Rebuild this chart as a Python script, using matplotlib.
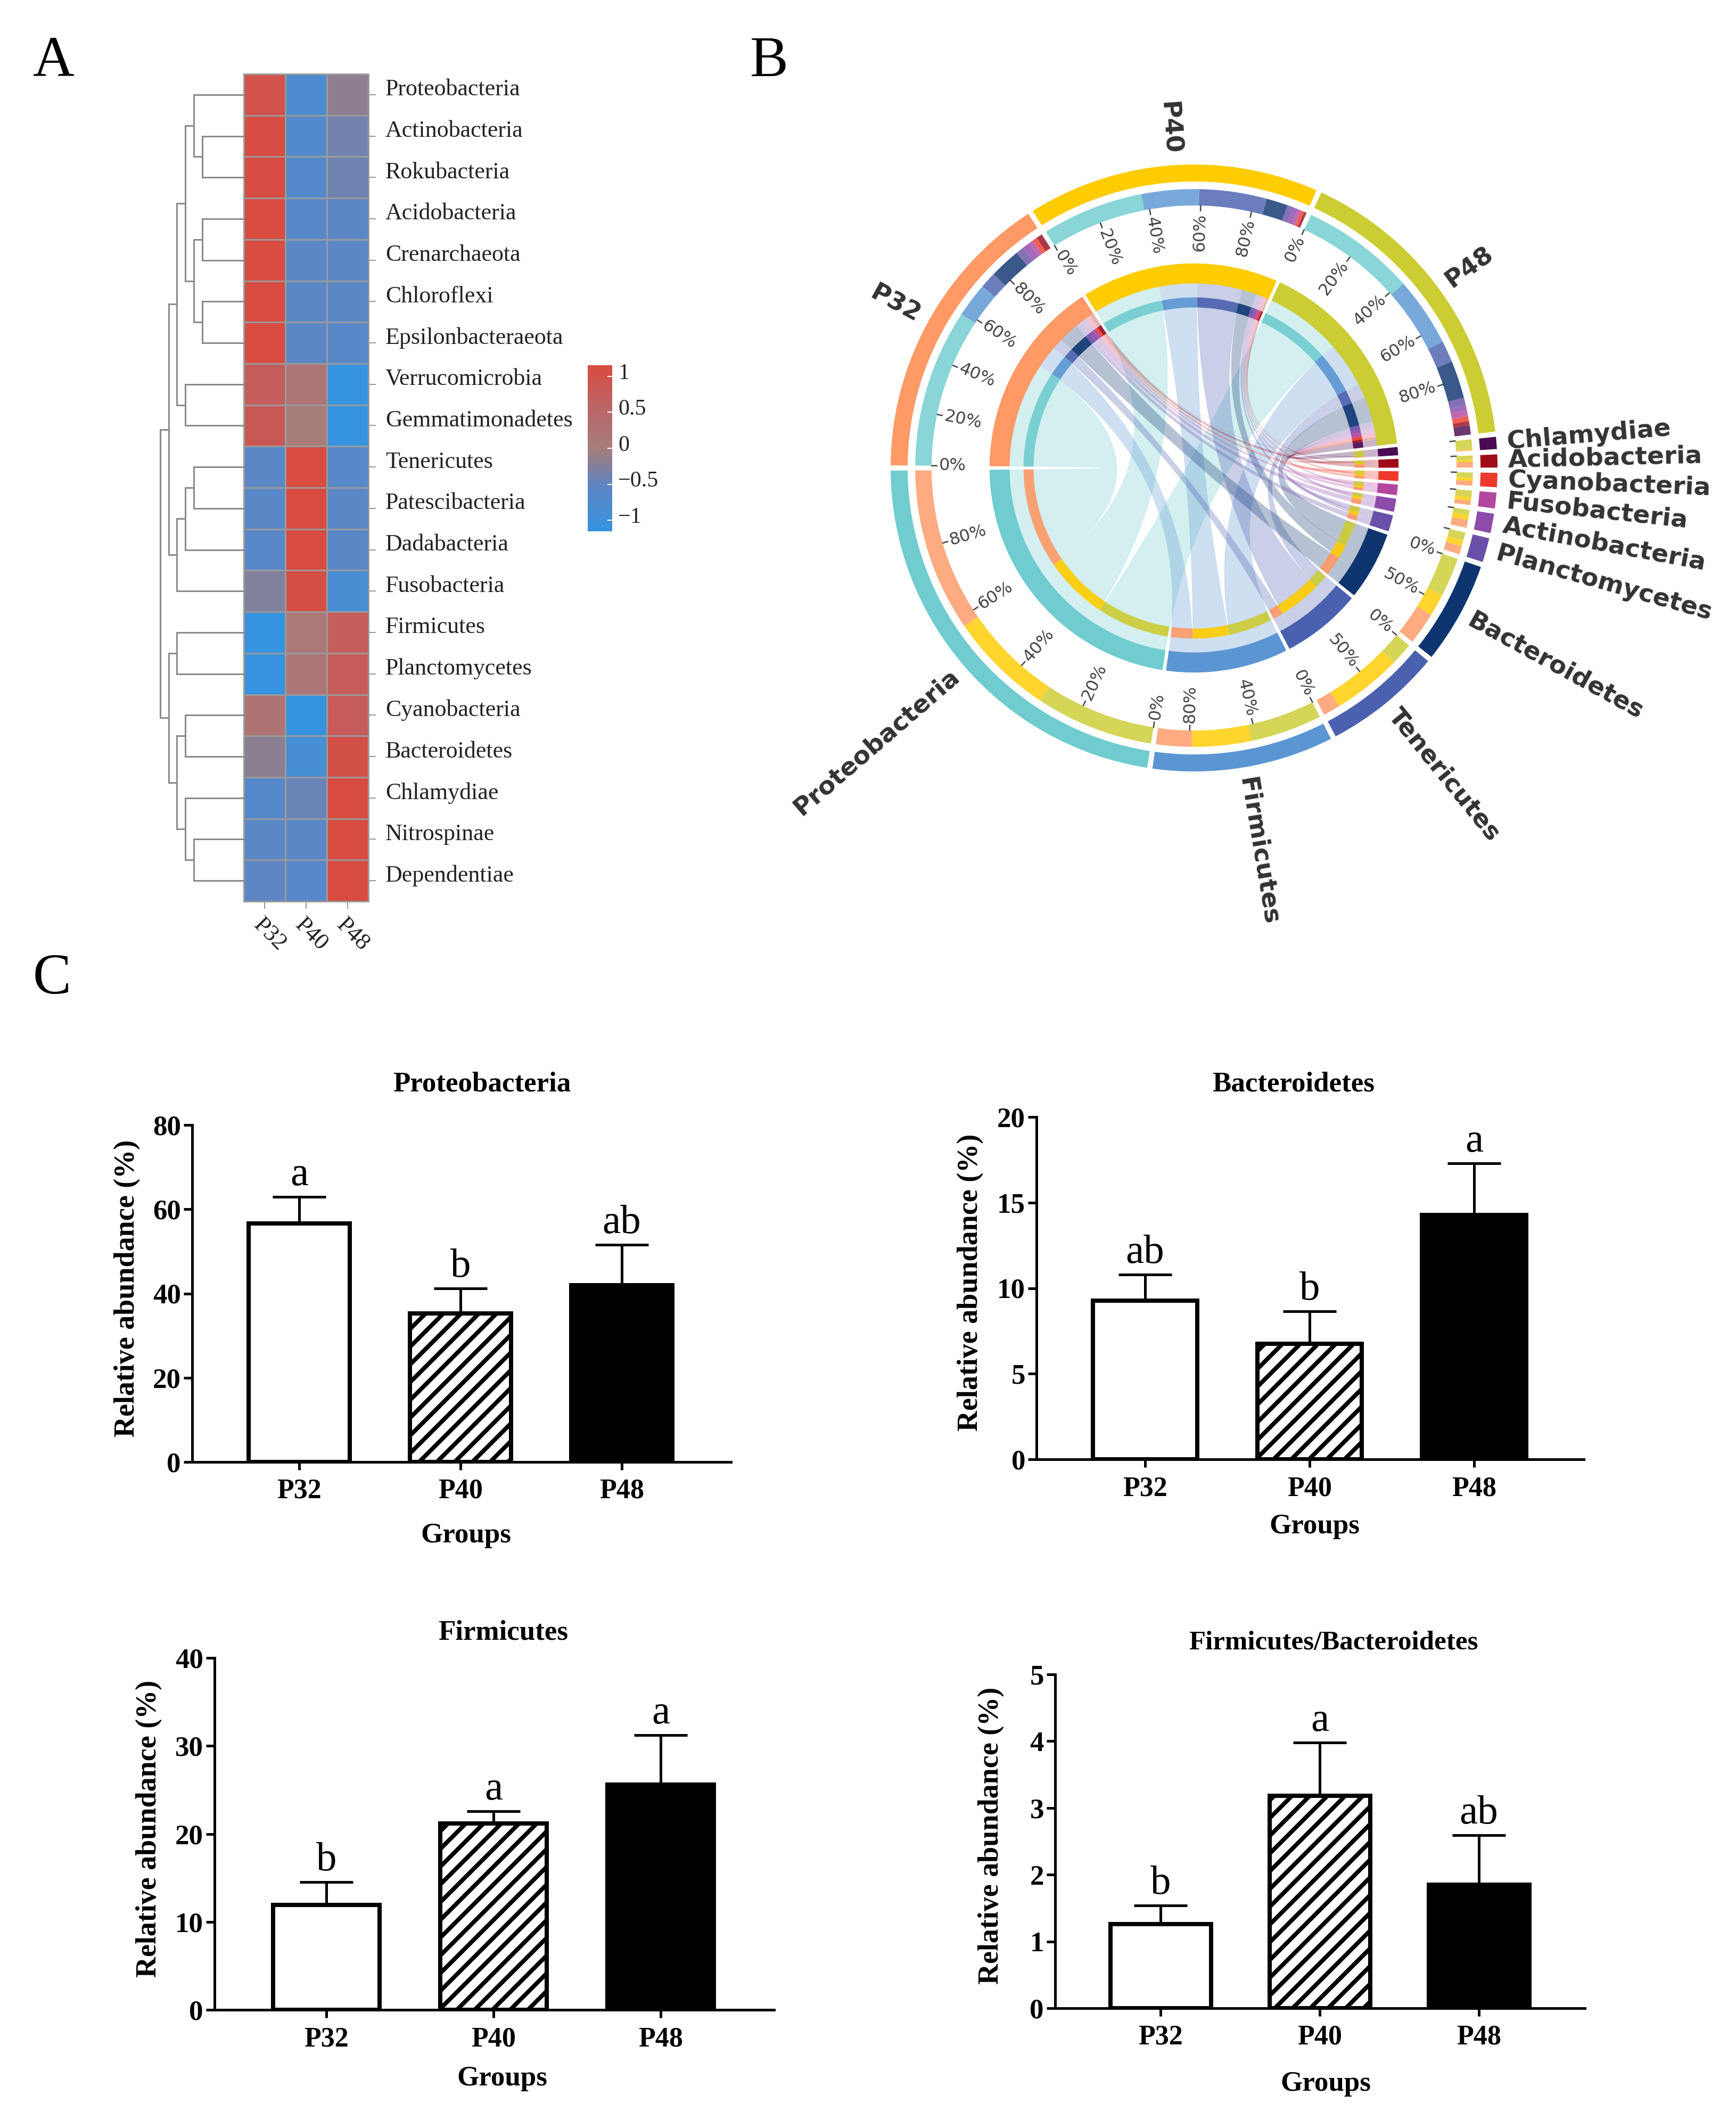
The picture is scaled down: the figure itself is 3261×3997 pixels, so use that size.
import numpy as np
import matplotlib
matplotlib.use('Agg')
import matplotlib.pyplot as plt
from matplotlib.colors import LinearSegmentedColormap
from matplotlib.patches import Wedge, PathPatch
from matplotlib.path import Path
from matplotlib.transforms import ScaledTranslation

W, H, DPI = 3262, 3997, 200
SERIF = 'Liberation Serif'

# heatmap data (row z-scores)
phyla_heat = ['Proteobacteria', 'Actinobacteria', 'Rokubacteria', 'Acidobacteria', 'Crenarchaeota',
              'Chloroflexi', 'Epsilonbacteraeota', 'Verrucomicrobia', 'Gemmatimonadetes', 'Tenericutes',
              'Patescibacteria', 'Dadabacteria', 'Fusobacteria', 'Firmicutes', 'Planctomycetes',
              'Cyanobacteria', 'Bacteroidetes', 'Chlamydiae', 'Nitrospinae', 'Dependentiae']
groups = ['P32', 'P40', 'P48']
z_p32 = [1.02, 1.13, 1.13, 1.15, 1.15, 1.15, 1.15, 0.75, 0.85, -0.55, -0.58, -0.60, -0.25, -1.13, -1.12, 0.25, -0.18, -0.65, -0.58, -0.52]
z_p40 = [-0.78, -0.70, -0.68, -0.60, -0.58, -0.57, -0.56, 0.22, 0.05, 1.15, 1.15, 1.15, 1.09, 0.12, 0.20, -1.13, -0.88, -0.42, -0.58, -0.63]
z_p48 = [-0.17, -0.36, -0.38, -0.55, -0.57, -0.58, -0.59, -1.13, -1.13, -0.60, -0.57, -0.55, -0.84, 0.75, 0.80, 0.78, 1.05, 1.15, 1.15, 1.15]
# dendrogram as (height, left, right), leaves are row numbers
tree = (1.0,
        (0.9,
         (0.8,
          (0.7, (0.6, 0, (0.5, 1, 2)), (0.6, (0.5, 3, 4), (0.5, 5, 6))),
          (0.7, 7, 8)),
         (0.8, (0.7, (0.6, 9, 10), 11), 12)),
        (0.9,
         (0.8, 13, 14),
         (0.8, (0.7, 15, 16), (0.7, 17, (0.6, 18, 19)))))

# chord data
chord_phyla = ['Chlamydiae', 'Acidobacteria', 'Cyanobacteria', 'Fusobacteria', 'Actinobacteria',
               'Planctomycetes', 'Bacteroidetes', 'Tenericutes', 'Firmicutes', 'Proteobacteria']
flow_p32 = [0.3, 2.0, 1.7, 1.6, 2.8, 3.0, 11.5, 6.0, 12.8, 58.6]
flow_p40 = [0.2, 0.8, 1.2, 1.3, 1.8, 2.2, 8.0, 25.0, 21.3, 37.7]
flow_p48 = [3.5, 1.5, 1.8, 2.3, 1.8, 2.8, 14.0, 8.0, 25.6, 42.4]
group_colors = ['#FF9966', '#FFCC00', '#CCCC33']
phyla_colors = ['#4A0B52', '#A00B18', '#EE3A2C', '#B2479F', '#8C4BAA', '#6A50A8', '#0F3570', '#4B60AE', '#5B96D2', '#70CCCF']
phyla_ticks = [[0], [0], [0], [0], [0], [0], [0, 50], [0, 50], [0, 40, 80], [0, 20, 40, 60, 80]]
group_ticks = [0, 20, 40, 60, 80]

# bar data
bar_titles = ['Proteobacteria', 'Bacteroidetes', 'Firmicutes', 'Firmicutes/Bacteroidetes']
prot_mean, prot_top = [56.6, 35.3, 41.9], [62.9, 41.2, 51.6]
bact_mean, bact_top = [9.28, 6.76, 14.28], [10.8, 8.64, 17.28]
firm_mean, firm_top = [11.9, 21.2, 25.6], [14.55, 22.6, 31.2]
ratio_mean, ratio_top = [1.26, 3.18, 1.85], [1.54, 3.98, 2.59]
prot_sig = ['a', 'b', 'ab']
bact_sig = ['ab', 'b', 'a']
firm_sig = ['b', 'a', 'a']
ratio_sig = ['b', 'a', 'ab']
prot_yt = [0, 20, 40, 60, 80]
bact_yt = [0, 5, 10, 15, 20]
firm_yt = [0, 10, 20, 30, 40]
ratio_yt = [0, 1, 2, 3, 4, 5]


def pt(px):
    return px * 72 / DPI


def axes_px(left, top, right, bottom):
    return fig.add_axes([left / W, 1 - bottom / H, (right - left) / W, (bottom - top) / H])


def text_px(x, y, s, **kw):
    return fig.text(x / W, 1 - y / H, s, **kw)


plt.rcParams['hatch.linewidth'] = pt(8)
fig = plt.figure(figsize=(W / DPI, H / DPI), dpi=DPI, facecolor='white')

text_px(62, 143, 'A', family=SERIF, fontsize=pt(108), va='baseline')
text_px(1409, 143, 'B', family=SERIF, fontsize=pt(108), va='baseline')
text_px(62, 1866, 'C', family=SERIF, fontsize=pt(108), va='baseline')

# ---- A: heatmap
cmap = LinearSegmentedColormap.from_list('heat', [(0, '#3593E0'), (0.28, '#5F86C4'), (0.42, '#8A7F93'),
                                                  (0.5, '#A57F7C'), (0.72, '#B8686C'), (1, '#D84C42')])
ax = axes_px(458, 139, 692, 1693)
z = np.array([z_p32, z_p40, z_p48]).T
mesh = ax.pcolormesh(np.arange(4), np.arange(21), z, cmap=cmap, vmin=-1.155, vmax=1.155,
                     edgecolors='#9a9a9a', linewidth=pt(3))
ax.set_ylim(20, 0)
ax.yaxis.tick_right()
ax.set_yticks(np.arange(20) + 0.5, phyla_heat, family=SERIF, fontsize=pt(44))
ax.set_xticks(np.arange(3) + 0.5, groups, family=SERIF, fontsize=pt(44), rotation=-45, ha='left', rotation_mode='anchor')
ax.tick_params(axis='y', length=pt(14), width=pt(2), color='#999999', pad=pt(18), labelcolor='#222222')
ax.tick_params(axis='x', length=pt(14), width=pt(2), color='#999999', pad=pt(10), labelcolor='#222222')
shift = ScaledTranslation(0, pt(14) / 72, fig.dpi_scale_trans)
for lab in ax.get_yticklabels():
    lab.set_transform(lab.get_transform() + shift)
for s in ax.spines.values():
    s.set_color('#9a9a9a')
    s.set_linewidth(pt(3))

dax = axes_px(301, 139, 458, 1693)
dax.set_xlim(1, 0)
dax.set_ylim(20, 0)
dax.axis('off')


def draw_tree(node):
    if not isinstance(node, tuple):
        return node + 0.5, 0.0
    h, a, b = node
    ya, ha = draw_tree(a)
    yb, hb = draw_tree(b)
    dax.plot([ha, h, h, hb], [ya, ya, yb, yb], color='#8a8a8a', lw=pt(3), solid_joinstyle='miter', clip_on=False)
    return (ya + yb) / 2, h


draw_tree(tree)

cax = axes_px(1104, 686, 1150, 998)
cb = fig.colorbar(mesh, cax=cax, ticks=[1, 0.5, 0, -0.5, -1])
cb.outline.set_visible(False)
cb.solids.set_edgecolor('face')
cax.tick_params(length=pt(9), width=pt(2), color='white', direction='in', pad=pt(11), labelsize=pt(42), labelcolor='#222222')
cax.set_yticklabels(['1', '0.5', '0', '\u22120.5', '\u22121'], family=SERIF)
shift_cb = ScaledTranslation(0, pt(10) / 72, fig.dpi_scale_trans)
for lab in cax.get_yticklabels():
    lab.set_transform(lab.get_transform() + shift_cb)

# ---- B: chord diagram
R = 570
cx, cy = 2243, 879
pad = 1.6
cax2 = axes_px(cx - pad * R, cy - pad * R, cx + pad * R, cy + pad * R)
cax2.set_xlim(-pad, pad)
cax2.set_ylim(-pad, pad)
cax2.axis('off')
cax2.patch.set_alpha(0)

flows = np.array([flow_p32, flow_p40, flow_p48])
gap = 1.0
n_sec = 3 + len(chord_phyla)
# the group half of the circle is a little shorter than the phyla half in the figure
group_span = 170.6
per_group = group_span / flows.sum()
per_phyla = (360 - n_sec * gap - group_span) / flows.sum()


def arc(a1, a2, r):
    t = np.radians(np.linspace(a1, a2, 40))
    return np.column_stack([r * np.cos(t), r * np.sin(t)])


def band(a_start, a_end, r_out, r_in, color, alpha=1.0, z=3):
    cax2.add_patch(Wedge((0, 0), r_out, a_end, a_start, width=r_out - r_in, fc=color, ec='none', alpha=alpha, zorder=z))


def ribbon(a1, a2, b1, b2, r, color):
    pa, pb = arc(a1, a2, r), arc(b1, b2, r)
    verts = list(pa) + [(0, 0), pb[0]] + list(pb[1:]) + [(0, 0), pa[0]]
    codes = [Path.MOVETO] + [Path.LINETO] * (len(pa) - 1) + [Path.CURVE3, Path.CURVE3] + \
            [Path.LINETO] * (len(pb) - 1) + [Path.CURVE3, Path.CURVE3]
    cax2.add_patch(PathPatch(Path(verts, codes), fc=color, ec='none', alpha=0.3, zorder=1))


def sector_label(ang, s):
    t = np.radians(ang)
    x, y = 1.035 * np.cos(t), 1.035 * np.sin(t)
    left = np.cos(t) < 0
    cax2.text(x, y, s, rotation=ang - 180 if left else ang, rotation_mode='anchor', va='center',
              ha='right' if left else 'left', family='DejaVu Sans', weight='bold', fontsize=pt(47),
              color='#333333', clip_on=False)


def sector_tick(ang, s):
    t = np.radians(ang)
    cax2.plot([0.865 * np.cos(t), 0.848 * np.cos(t)], [0.865 * np.sin(t), 0.848 * np.sin(t)],
              color='#444444', lw=pt(2.5), clip_on=False)
    if s:
        left = np.cos(t) < 0
        cax2.text(0.84 * np.cos(t), 0.84 * np.sin(t), s, rotation=ang - 180 if left else ang, rotation_mode='anchor',
                  va='center', ha='left' if left else 'right', family='DejaVu Sans', fontsize=pt(32),
                  color='#444444', clip_on=False)


# sector start angles clockwise from 9 o'clock
starts = {}
ang = 180 - gap / 2
for i in range(3):
    starts['g', i] = ang
    ang -= flows[i].sum() * per_group + gap
for j in range(len(chord_phyla)):
    starts['p', j] = ang
    ang -= flows[:, j].sum() * per_phyla + gap

# ribbons: the group stacks run Proteobacteria first, phyla stacks run P48 first
group_pos, phyla_pos = {}, {}
for i in range(3):
    a = starts['g', i]
    for j in reversed(range(len(chord_phyla))):
        group_pos[i, j] = (a, a - flows[i, j] * per_group)
        a -= flows[i, j] * per_group
for j in range(len(chord_phyla)):
    a = starts['p', j]
    for i in reversed(range(3)):
        phyla_pos[i, j] = (a, a - flows[i, j] * per_phyla)
        a -= flows[i, j] * per_phyla

for j in reversed(range(len(chord_phyla))):
    for i in range(3):
        ribbon(*group_pos[i, j], *phyla_pos[i, j], 0.612, phyla_colors[j])

for i in range(3):
    a0 = starts['g', i]
    a1 = a0 - flows[i].sum() * per_group
    for r_out, r_in in [(1.0, 0.944), (0.674, 0.608)]:
        band(a0, a1, r_out, r_in, group_colors[i])
    for j in range(len(chord_phyla)):
        s, e = group_pos[i, j]
        band(s, e, 0.919, 0.865, phyla_colors[j], 0.82)
        band(s, e, 0.562, 0.529, phyla_colors[j], 0.9)
    for v in group_ticks:
        sector_tick(a0 - (a0 - a1) * v / 100, f'{v}%')
    sector_label((a0 + a1) / 2, groups[i])

for j in range(len(chord_phyla)):
    a0 = starts['p', j]
    a1 = a0 - flows[:, j].sum() * per_phyla
    for r_out, r_in in [(1.0, 0.944), (0.674, 0.608)]:
        band(a0, a1, r_out, r_in, phyla_colors[j])
    for i in range(3):
        s, e = phyla_pos[i, j]
        band(s, e, 0.919, 0.865, group_colors[i], 0.82)
        band(s, e, 0.562, 0.529, group_colors[i], 0.9)
    for v in phyla_ticks[j]:
        sector_tick(a0 - (a0 - a1) * v / 100, f'{v}%' if len(phyla_ticks[j]) > 1 else '')
    sector_label((a0 + a1) / 2, chord_phyla[j])


# ---- C: bar panels
def bar_panel(box, centers, width, mean, top, sig, yticks, title, title_xy, ylab_xy, xlab_xy, title_size=53):
    left, ytop, right, ybot = box
    ax = axes_px(left, ytop, right, ybot)
    step = centers[1] - centers[0]
    ax.set_xlim((left - centers[0]) / step, (right - centers[0]) / step)
    ax.set_ylim(0, yticks[-1])
    x = np.arange(3)
    ax.errorbar(x, mean, yerr=[[0, 0, 0], np.array(top) - np.array(mean)], fmt='none', ecolor='black',
                elinewidth=pt(5), capsize=pt(50), capthick=pt(5), zorder=1)
    bw = (width - 7) / step
    ax.bar(0, mean[0], bw, facecolor='white', edgecolor='black', linewidth=pt(8), zorder=2)
    ax.bar(1, mean[1], bw, facecolor='white', edgecolor='black', hatch='//', linewidth=pt(8), zorder=2)
    ax.bar(2, mean[2], bw, facecolor='black', edgecolor='black', linewidth=pt(8), zorder=2)
    for xi, t, s in zip(x, top, sig):
        ax.annotate(s, (xi, t), xytext=(0, pt(22)), textcoords='offset points', ha='center', va='baseline',
                    family=SERIF, fontsize=pt(77))
    ax.spines[['top', 'right']].set_visible(False)
    ax.spines[['left', 'bottom']].set_linewidth(pt(5))
    ax.set_xticks(x, groups, family=SERIF, weight='bold', fontsize=pt(52))
    ax.set_yticks(yticks, [str(v) for v in yticks], family=SERIF, weight='bold', fontsize=pt(53))
    ax.tick_params(axis='x', length=pt(15), width=pt(5), pad=pt(16))
    ax.tick_params(axis='y', length=pt(16), width=pt(5), pad=pt(5))
    text_px(*title_xy, title, family=SERIF, weight='bold', fontsize=pt(title_size), ha='center', va='center')
    text_px(*ylab_xy, 'Relative abundance (%)', family=SERIF, weight='bold', fontsize=pt(54), rotation=90, ha='center', va='center')
    text_px(*xlab_xy, 'Groups', family=SERIF, weight='bold', fontsize=pt(53), ha='center', va='center')


bar_panel((361, 2113, 1373, 2746), [562, 865, 1167], 197, prot_mean, prot_top, prot_sig, prot_yt,
          bar_titles[0], (905, 2036), (239, 2420), (875, 2884))
bar_panel((1947, 2098, 2975, 2741), [2151, 2460, 2767], 203, bact_mean, bact_top, bact_sig, bact_yt,
          bar_titles[1], (2430, 2036), (1823, 2409), (2469, 2867))
bar_panel((403, 3114, 1454, 3775), [613, 927, 1242], 207, firm_mean, firm_top, firm_sig, firm_yt,
          bar_titles[2], (945, 3066), (280, 3435), (943, 3904))
bar_panel((1982, 3145, 2977, 3772), [2180, 2479, 2777], 196, ratio_mean, ratio_top, ratio_sig, ratio_yt,
          bar_titles[3], (2505, 3086), (1862, 3448), (2490, 3914), title_size=51)

fig.savefig('out.png', dpi=DPI, facecolor='white')
